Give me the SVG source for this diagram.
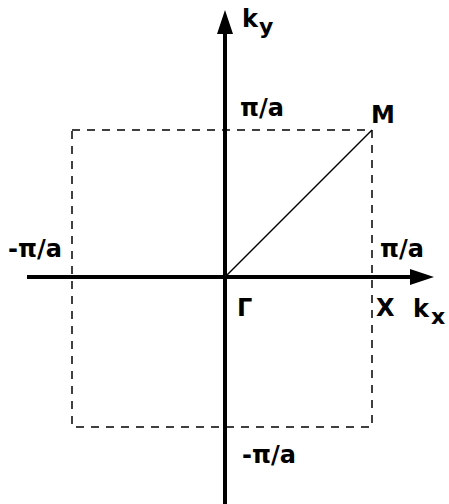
<svg xmlns="http://www.w3.org/2000/svg" width="449" height="504" viewBox="0 0 449 504">
<style>
.ax{stroke:#000;stroke-width:4;fill:none}
.bz{stroke:#000;stroke-width:1.5;fill:none;stroke-dasharray:8,7}
.ln{stroke:#000;stroke-width:1.5;fill:none}
text{font-family:"DejaVu Sans","Liberation Sans",sans-serif;font-weight:bold;font-size:24px;fill:#000}
.sub{font-size:22px}
</style>
<defs>
<marker id="ah" markerWidth="6" markerHeight="4" refX="0" refY="2" orient="auto" markerUnits="strokeWidth">
<path d="M0,0 L6,2 L0,4 Z" fill="#000"/>
</marker>
</defs>
<rect width="449" height="504" fill="#fff"/>
<g id="connectors">
<rect class="bz" x="72" y="130" width="300" height="297"/>
<line class="ax" x1="225" y1="504" x2="225" y2="34" marker-end="url(#ah)"/>
<line class="ax" x1="27" y1="277" x2="410" y2="277" marker-end="url(#ah)"/>
<line class="ln" x1="225" y1="277" x2="372" y2="130"/>
</g>
<g id="labels">
<text x="242" y="27">k</text><text class="sub" x="259" y="34">y</text>
<text x="240" y="116">π/a</text>
<text x="371" y="123">M</text>
<text x="8" y="257">-π/a</text>
<text x="380" y="257">π/a</text>
<text x="237" y="316">Γ</text>
<text x="376" y="316">X</text>
<text x="413" y="317">k</text><text class="sub" x="431" y="324">x</text>
<text x="242" y="463">-π/a</text>
</g>
</svg>
